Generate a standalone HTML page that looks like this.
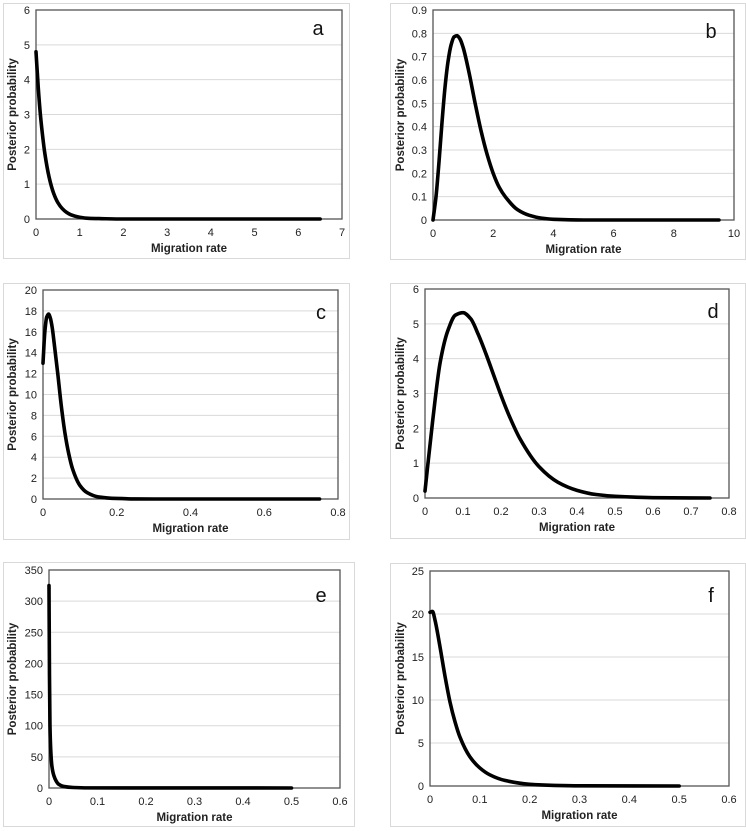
<!DOCTYPE html>
<html><head><meta charset="utf-8"><style>
html,body{margin:0;padding:0;background:#fff;}
svg{display:block;font-family:"Liberation Sans",Arial,sans-serif;}
</style></head><body>
<svg id="fig" width="746" height="831" viewBox="0 0 746 831"></svg>
<script>
// Panel data
const aX=[0,0.05,0.1,0.15,0.2,0.3,0.4,0.5,0.6,0.7,0.8,1.0,1.2,1.5,2,3,4,5,6.5];
const aY=[4.8,3.8,3.0,2.4,1.9,1.2,0.75,0.47,0.3,0.19,0.12,0.05,0.02,0.01,0,0,0,0,0];
const aTicksX=[0,1,2,3,4,5,6,7];
const aTicksY=[0,1,2,3,4,5,6];

const bX=[0,0.1,0.2,0.3,0.4,0.5,0.6,0.7,0.8,0.9,1.0,1.2,1.4,1.6,1.8,2.0,2.2,2.4,2.8,3.2,3.6,4,5,6,8,9.5];
const bY=[0,0.1,0.25,0.42,0.57,0.68,0.75,0.785,0.79,0.775,0.74,0.63,0.5,0.38,0.28,0.2,0.14,0.1,0.045,0.02,0.008,0.003,0,0,0,0];
const bTicksX=[0,2,4,6,8,10];
const bTicksY=[0,0.1,0.2,0.3,0.4,0.5,0.6,0.7,0.8,0.9];

const cX=[0,0.005,0.01,0.015,0.02,0.025,0.03,0.04,0.05,0.06,0.07,0.08,0.1,0.12,0.15,0.2,0.25,0.3,0.4,0.75];
const cY=[13,16,17.4,17.7,17.3,16.4,15,12,8.8,6.2,4.3,2.9,1.3,0.6,0.2,0.05,0.01,0,0,0];
const cTicksX=[0,0.2,0.4,0.6,0.8];
const cTicksY=[0,2,4,6,8,10,12,14,16,18,20];

const dX=[0,0.02,0.04,0.06,0.08,0.1,0.12,0.14,0.16,0.18,0.2,0.22,0.25,0.3,0.35,0.4,0.45,0.5,0.6,0.75];
const dY=[0.2,2.2,3.9,4.8,5.25,5.32,5.15,4.7,4.15,3.55,2.95,2.4,1.7,0.9,0.45,0.22,0.1,0.05,0.01,0];
const dTicksX=[0,0.1,0.2,0.3,0.4,0.5,0.6,0.7,0.8];
const dTicksY=[0,1,2,3,4,5,6];

const eX=[0,0.001,0.002,0.004,0.006,0.01,0.015,0.02,0.03,0.05,0.08,0.5];
const eY=[325,180,100,55,35,20,11,6,2.5,0.8,0.2,0];
const eTicksX=[0,0.1,0.2,0.3,0.4,0.5,0.6];
const eTicksY=[0,50,100,150,200,250,300,350];

const fX=[0,0.005,0.01,0.02,0.03,0.04,0.05,0.06,0.08,0.1,0.12,0.15,0.2,0.25,0.3,0.5];
const fY=[20.2,20.3,19.3,16.2,12.8,9.8,7.5,5.7,3.4,2.1,1.3,0.65,0.2,0.07,0.02,0];
const fTicksX=[0,0.1,0.2,0.3,0.4,0.5,0.6];
const fTicksY=[0,5,10,15,20,25];

const NS="http://www.w3.org/2000/svg";
const svg=document.getElementById('fig');
function mk(tag,attrs,parent,text){const e=document.createElementNS(NS,tag);for(const k in attrs)e.setAttribute(k,attrs[k]);if(text!==undefined)e.textContent=text;(parent||svg).appendChild(e);return e;}

// monotone cubic path through pixel points
function monotonePath(P){
 const n=P.length;if(n<2)return '';
 const dx=[],dy=[],m=[];
 for(let i=0;i<n-1;i++){dx.push(P[i+1][0]-P[i][0]);dy.push(P[i+1][1]-P[i][1]);m.push(dy[i]/dx[i]);}
 const t=[m[0]];
 for(let i=1;i<n-1;i++){ if(m[i-1]*m[i]<=0)t.push(0); else {const w1=2*dx[i]+dx[i-1],w2=dx[i]+2*dx[i-1];t.push((w1+w2)/(w1/m[i-1]+w2/m[i]));}}
 t.push(m[n-2]);
 let d='M'+P[0][0].toFixed(2)+','+P[0][1].toFixed(2);
 for(let i=0;i<n-1;i++){const h=dx[i]/3;
  d+='C'+(P[i][0]+h).toFixed(2)+','+(P[i][1]+h*t[i]).toFixed(2)+' '+(P[i+1][0]-h).toFixed(2)+','+(P[i+1][1]-h*t[i+1]).toFixed(2)+' '+P[i+1][0].toFixed(2)+','+P[i+1][1].toFixed(2);}
 return d;
}

const panels=[
 {id:'a',xs:aX,ys:aY,tx:aTicksX,ty:aTicksY,box:[3,3,350,259],pl:[36,10,342,219],lab:[318,35]},
 {id:'b',xs:bX,ys:bY,tx:bTicksX,ty:bTicksY,box:[390,3,746,260],pl:[433,10,734,220],lab:[711,38]},
 {id:'c',xs:cX,ys:cY,tx:cTicksX,ty:cTicksY,box:[3,283,350,540],pl:[43,290,338,499],lab:[321,319]},
 {id:'d',xs:dX,ys:dY,tx:dTicksX,ty:dTicksY,box:[390,283,746,539],pl:[425,289,729,498],lab:[713,318]},
 {id:'e',xs:eX,ys:eY,tx:eTicksX,ty:eTicksY,box:[3,562,355,827],pl:[49,570,340,788],lab:[321,602]},
 {id:'f',xs:fX,ys:fY,tx:fTicksX,ty:fTicksY,box:[390,563,746,827],pl:[430,571,729,786],lab:[711,602]}
];

panels.forEach(p=>{
 const g=mk('g',{});
 
 
 const [bx0,by0,bx1,by1]=p.box,[x0,y0,x1,y1]=p.pl;
 const xmax=p.tx[p.tx.length-1],ymax=p.ty[p.ty.length-1];
 const sx=v=>x0+(v/xmax)*(x1-x0), sy=v=>y1-(v/ymax)*(y1-y0);
 const ob=mk('rect',{x:bx0+0.5,y:by0+0.5,width:bx1-bx0-1,height:by1-by0-1,fill:'none',stroke:'#d9d9d9','stroke-width':1},g);
 
 
 p.ty.forEach(t=>{
  const y=sy(t);
  if(t>0&&t<ymax){const gl=mk('line',{x1:x0,x2:x1,y1:y,y2:y,stroke:'#d9d9d9','stroke-width':1},g);
   
   }
  const tl=mk('text',{x:x0-6,y:y+4,'text-anchor':'end','font-size':11,fill:'#222'},g,String(t));
  
  
 });
 p.tx.forEach(t=>{
  const tl=mk('text',{x:sx(t),y:y1+17,'text-anchor':'middle','font-size':11,fill:'#222'},g,String(t));
  
  
 });
 const pa=mk('rect',{x:x0,y:y0,width:x1-x0,height:y1-y0,fill:'none',stroke:'#555','stroke-width':1.3},g);
 
 
 const pts=p.xs.map((v,i)=>[sx(v),sy(p.ys[i])]);
 const ln=mk('path',{d:monotonePath(pts),fill:'none',stroke:'#000','stroke-width':3.6,'stroke-linejoin':'round','stroke-linecap':'round'},g);
 
 
 const xt=mk('text',{x:(x0+x1)/2,y:y1+33,'text-anchor':'middle','font-size':11.5,'font-weight':'bold',fill:'#222'},g,'Migration rate');
 
 
 const cy=(y0+y1)/2, tx=bx0+ (p.id==='b'||p.id==='d'||p.id==='f'? 14:13);
 const yt=mk('text',{x:tx,y:cy,'text-anchor':'middle','font-size':11.5,'font-weight':'bold',fill:'#222',transform:'rotate(-90 '+tx+' '+cy+')'},g,'Posterior probability');
 
 
 const lb=mk('text',{x:p.lab[0],y:p.lab[1],'text-anchor':'middle','font-size':20,fill:'#111'},g,p.id);
 
 
});
</script>
</body></html>
